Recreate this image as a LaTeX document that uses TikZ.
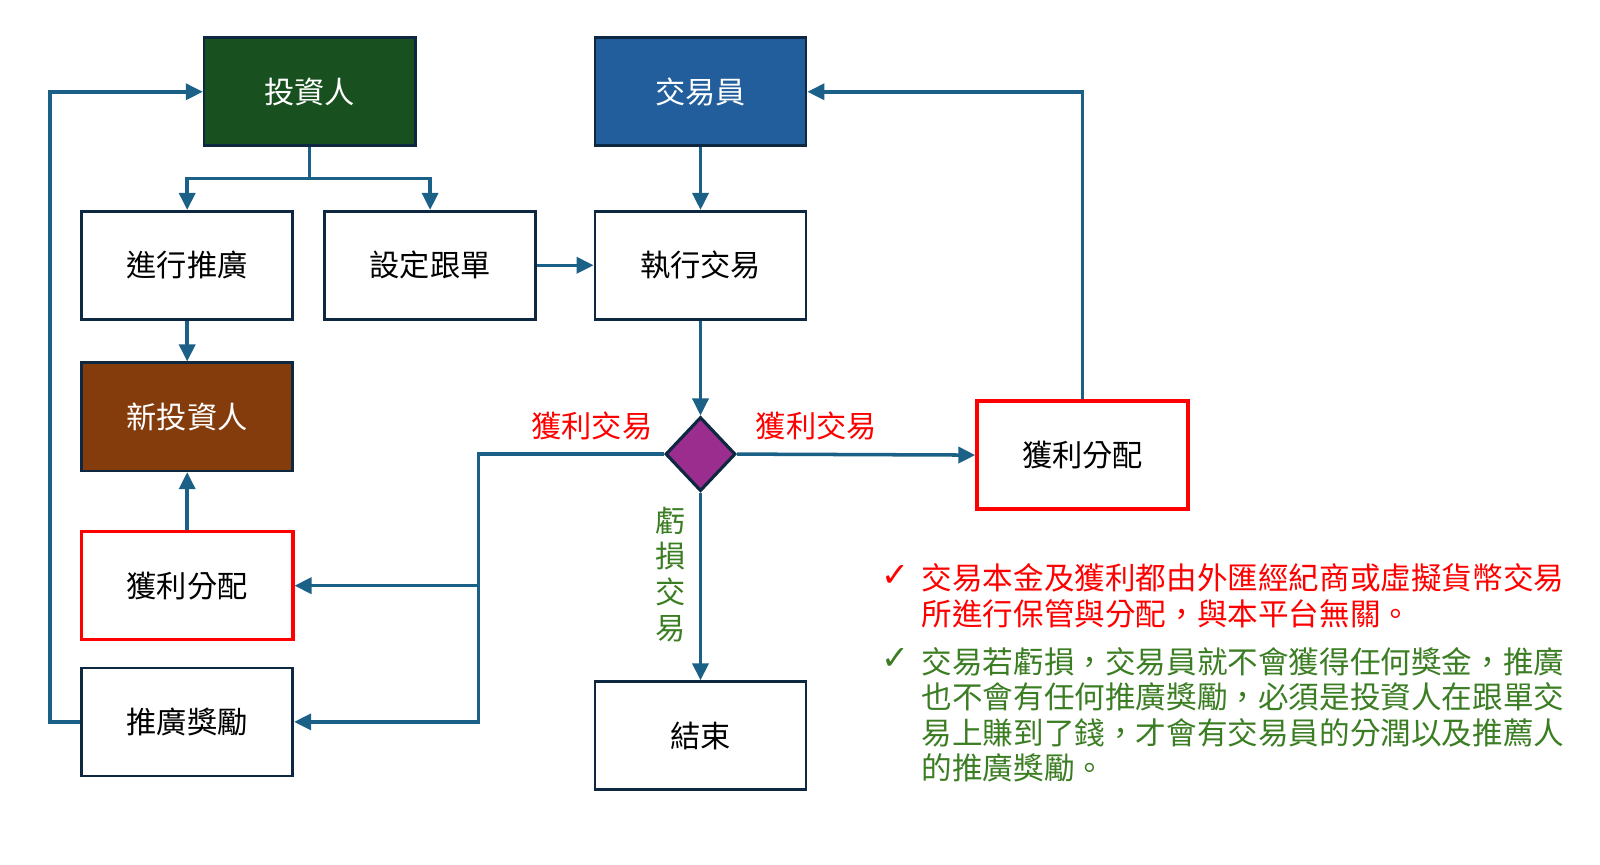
\documentclass[tikz,border=0pt]{standalone}
\usepackage{fontspec}
\setmainfont{Noto Sans CJK TC}
\newfontfamily\chkfont{DejaVu Sans}
\usetikzlibrary{shapes.geometric,arrows.meta}
\definecolor{invgreen}{HTML}{19501F}
\definecolor{traderblue}{HTML}{225E9B}
\definecolor{newbrown}{HTML}{843C0C}
\definecolor{decpurple}{HTML}{9B2D8F}
\definecolor{boxline}{HTML}{0E2841}
\definecolor{lineblue}{HTML}{1B6086}
\definecolor{notered}{HTML}{FF0000}
\definecolor{notegreen}{HTML}{3B7D23}

\begin{document}
\begin{tikzpicture}[x=0.01cm,y=-0.01cm,
    box/.style={draw=boxline,line width=0.75pt,minimum width=2.11cm,minimum height=1.08cm,
      inner sep=0pt,font=\fontsize{8.6}{10}\selectfont},
    redbox/.style={box,draw=notered,line width=1pt},
    link/.style={draw=lineblue,line width=1pt},
    arr/.style={link,-{Triangle[length=0.17cm,width=0.16cm]}},
    lbl/.style={inner sep=0pt,font=\fontsize{8.6}{10.2}\selectfont},
    note/.style={inner sep=0pt,align=left,font=\fontsize{8.7}{10.1}\selectfont}]
  \useasboundingbox (0,0) rectangle (1600,865);

  % boxes
  \node[box,fill=invgreen,text=white] (inv) at (309.7,91.8) {投資人};
  \node[box,fill=traderblue,text=white] (trader) at (700.5,91.8) {交易員};
  \node[box] (promo) at (187.2,265.3) {進行推廣};
  \node[box] (follow) at (430.1,265.3) {設定跟單};
  \node[box] (exec) at (700.5,265.3) {執行交易};
  \node[box,fill=newbrown,text=white] (newinv) at (187.2,416.8) {新投資人};
  \node[draw=boxline,line width=0.9pt,fill=decpurple,diamond,inner sep=0pt,
    minimum width=0.7cm,minimum height=0.74cm] (dec) at (700.5,454.1) {};
  \node[redbox] (profitR) at (1082.6,455.1) {獲利分配};
  \node[redbox] (profitL) at (187.2,585.7) {獲利分配};
  \node[box] (reward) at (187.2,721.9) {推廣獎勵};
  \node[box] (done) at (700.5,735.7) {結束};

  % labels
  \node[lbl,text=notered] (winL) at (591.8,425.5) {獲利交易};
  \node[lbl,text=notered] (winR) at (816.3,425.5) {獲利交易};
  \node[lbl,text=notegreen,align=center] (loss) at (670.4,574.5) {虧\\損\\交\\易};

  % connectors
  \coordinate (split) at (309.7,178.6);
  \coordinate (branch) at (478.6,454.1);
  \coordinate (loop) at (50,721.9);
  \draw[link] (inv.south) -- (split);
  \draw[arr] (split) -| (promo.north);
  \draw[arr] (split) -| (follow.north);
  \draw[arr] (follow) -- (exec);
  \draw[arr] (trader) -- (exec);
  \draw[arr] (exec) -- (dec);
  \draw[arr] (promo) -- (newinv);
  \draw[arr] (profitL) -- (newinv);
  \draw[arr] (dec.east) -- (profitR.west);
  \draw[arr] (dec.south) -- (done.north);
  \draw[arr] (profitR.north) |- (trader.east);
  \draw[arr] (dec.west) -- (branch) |- (reward.east);
  \draw[arr] (branch |- profitL.east) -- (profitL.east);
  \draw[arr] (reward.west) -- (loop) |- (inv.west);

  % notes
  \node[inner sep=0pt,text=notered,font=\chkfont\fontsize{9.5}{10}\selectfont] (chkA) at (895,576) {✓};
  \node[note,text=notered,anchor=west] (noteA) at (921,596) {交易本金及獲利都由外匯經紀商或虛擬貨幣交易\\所進行保管與分配，與本平台無關。};
  \node[inner sep=0pt,text=notegreen,font=\chkfont\fontsize{9.5}{10}\selectfont] (chkB) at (895,659) {✓};
  \node[note,text=notegreen,anchor=west] (noteB) at (921,714.8) {交易若虧損，交易員就不會獲得任何獎金，推廣\\也不會有任何推廣獎勵，必須是投資人在跟單交\\易上賺到了錢，才會有交易員的分潤以及推薦人\\的推廣獎勵。};
\end{tikzpicture}
\end{document}
